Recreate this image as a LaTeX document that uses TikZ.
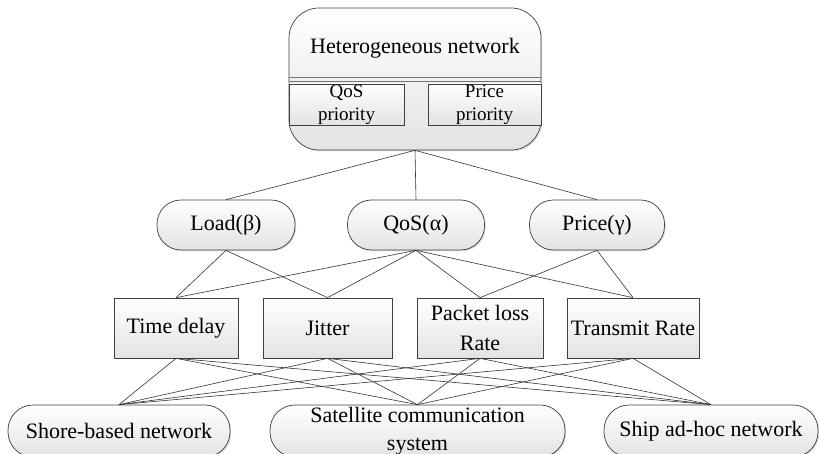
\documentclass[tikz,border=0pt]{standalone}
\usepackage{fontspec}
\setmainfont{Liberation Serif}
\usetikzlibrary{shadows}
\begin{document}
\begin{tikzpicture}[x=1pt,y=-1pt,
  every node/.style={font=\fontsize{22}{28}\selectfont, inner sep=0pt, align=center},
  boxfill/.style={top color=white, bottom color=gray!22, draw=black!75, line width=0.7pt,
    drop shadow={shadow xshift=1.2pt, shadow yshift=-1.2pt, fill=black!30, opacity=0.5}},
  pill/.style={boxfill, rounded corners=24pt, minimum height=50pt},
  rectbox/.style={boxfill, minimum height=60pt},
  botpill/.style={boxfill, rounded corners=25pt, minimum height=52pt},
  subbox/.style={top color=white, bottom color=gray!22, draw=black!75, line width=0.7pt,
    minimum height=41pt, font=\fontsize{19}{23}\selectfont},
  link/.style={draw=black!80, line width=0.6pt},
  sep/.style={draw=black!55, line width=0.6pt},
]
\useasboundingbox (0,0) rectangle (819,454);

% top box
\node[boxfill, rounded corners=30pt, minimum width=252pt, minimum height=142pt] (hn) at (415,79) {};
\node (hnt) at (415,48) {Heterogeneous network};
\draw[sep] ([yshift=2pt]hn.west) -- ([yshift=2pt]hn.east);
\draw[sep] ([yshift=-2pt]hn.west) -- ([yshift=-2pt]hn.east);
\node[subbox, minimum width=115pt] (qp) at (346.5,104.5) {QoS\\priority};
\node[subbox, minimum width=113pt] (pp) at (484.5,104.5) {Price\\priority};

% criteria
\node[pill, minimum width=138pt] (ld) at (226,225) {Load(β)};
\node[pill, minimum width=137pt] (qs) at (416,225) {QoS(α)};
\node[pill, minimum width=135pt] (pr) at (597,225) {Price(γ)};

% sub-criteria
\node[rectbox, minimum width=124pt] (td) at (176,328) {Time delay};
\node[rectbox, minimum width=129pt] (ji) at (327.5,328) {Jitter};
\node[rectbox, minimum width=126pt] (pl) at (480,328) {Packet loss\\[2pt]Rate};
\node[rectbox, minimum width=132pt] (tr) at (633,328) {Transmit Rate};

% alternatives
\node[botpill, minimum width=222pt] (sh) at (119,431) {Shore-based network};
\node[botpill, minimum width=295pt] (sa) at (417.5,431) {Satellite communication\\system};
\node[botpill, minimum width=214pt] (sp) at (711,431) {Ship ad-hoc network};

% links
\foreach \m in {ld,qs,pr} \draw[link] (hn.south) -- (\m.north);
\foreach \s in {td,ji} \draw[link] (ld.south) -- (\s.north);
\foreach \s in {td,ji,pl,tr} \draw[link] (qs.south) -- (\s.north);
\foreach \s in {pl,tr} \draw[link] (pr.south) -- (\s.north);
\foreach \s in {td,ji,pl,tr}
  \foreach \b in {sh,sa,sp} \draw[link] (\s.south) -- (\b.north);
\end{tikzpicture}
\end{document}
